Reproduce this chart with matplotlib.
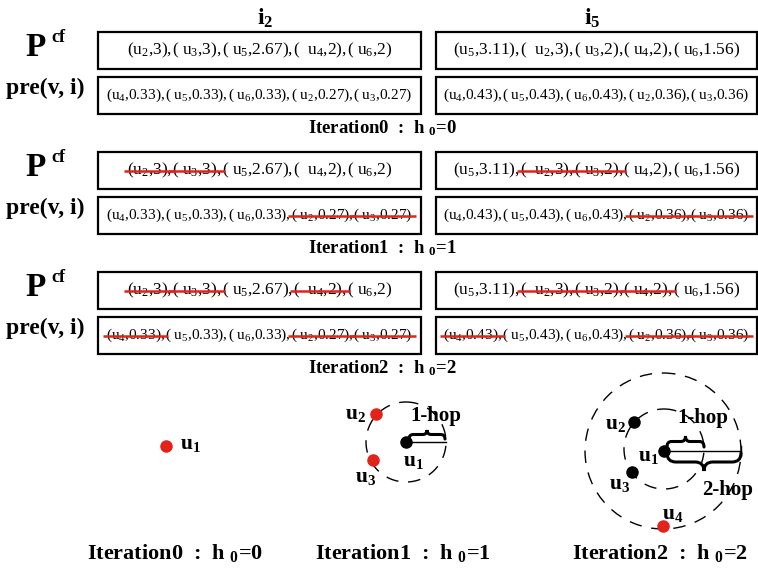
import numpy as np, matplotlib
matplotlib.use("Agg"); import matplotlib.pyplot as plt
from matplotlib.patches import Rectangle, Circle, PathPatch
from matplotlib.path import Path

plt.rcParams['font.family'] = 'Liberation Serif'
plt.rcParams['mathtext.fontset'] = 'custom'
plt.rcParams['mathtext.rm'] = 'Liberation Serif'
plt.rcParams['mathtext.it'] = 'Liberation Serif:italic'
plt.rcParams['mathtext.bf'] = 'Liberation Serif:bold'

# --- content ---
items = ['i$_\\mathbf{2}$', 'i$_\\mathbf{5}$']
pcf_i2 = ['(u$_2$,3),', '( u$_3$,3),', '( u$_5$,2.67),', '(  u$_4$,2),', '( u$_6$,2)']
pcf_i5 = ['(u$_5$,3.11),', '(  u$_2$,3),', '( u$_3$,2),', '( u$_4$,2),', '( u$_6$,1.56)']
pre_i2 = ['(u$_4$,0.33),', '( u$_5$,0.33),', '( u$_6$,0.33),', '( u$_2$,0.27),', '( u$_3$,0.27)']
pre_i5 = ['(u$_4$,0.43),', '( u$_5$,0.43),', '( u$_6$,0.43),', '( u$_2$,0.36),', '( u$_3$,0.36)']
iter_labels = ['Iteration0  :  h $_\\mathbf{0}$=0', 'Iteration1  :  h $_\\mathbf{0}$=1',
               'Iteration2  :  h $_\\mathbf{0}$=2']
# struck-out entries per iteration: (pcf_i2, pre_i2, pcf_i5, pre_i5)
struck = [([], [], [], []),
          ([0, 1], [3, 4], [1, 2], [3, 4]),
          ([0, 1, 3], [0, 3, 4], [1, 2, 3], [0, 3, 4])]

RED = '#e2231a'
fig = plt.figure(figsize=(7.58, 5.74), dpi=100)
ax = fig.add_axes([0, 0, 1, 1]); ax.set_xlim(0, 758); ax.set_ylim(574, 0); ax.axis('off')
rend = fig.canvas.get_renderer()

def row_text(pieces, cx, cy, size, strike):
    ts = [ax.text(0, cy, p, fontsize=size, ha='left', va='center') for p in pieces]
    ws = [t.get_window_extent(rend).width for t in ts]
    x = cx - sum(ws)/2
    for k, (t, w) in enumerate(zip(ts, ws)):
        t.set_x(x)
        if k in strike:
            ax.plot([x-3, x+w+3], [cy+1, cy+1], color=RED, lw=1.8, solid_capstyle='butt', zorder=5)
        x += w

def box(x0, x1, y0, y1):
    ax.add_patch(Rectangle((x0, y0), x1-x0, y1-y0, fill=False, ec='black', lw=1.6))

ax.text(265, 18, items[0], fontsize=17, fontweight='bold', ha='center', va='center')
ax.text(592, 18, items[1], fontsize=17, fontweight='bold', ha='center', va='center')

L0, L1, R0, R1 = 98, 421, 436, 757
for it in range(3):
    dy = 120*it
    ax.text(36, 47+dy, 'P', fontsize=24, fontweight='bold', ha='center', va='center')
    ax.text(51, 38+dy, 'cf', fontsize=13, fontweight='bold', ha='left', va='center')
    ax.text(45, 88+dy, 'pre(v, i)', fontsize=17, fontweight='bold', ha='center', va='center')
    box(L0, L1, 32+dy, 69+dy); box(R0, R1, 32+dy, 69+dy)
    box(L0, L1, 77+dy, 114+dy); box(R0, R1, 77+dy, 114+dy)
    s = struck[it]
    row_text(pcf_i2, (L0+L1)/2, 50+dy, 12.5, s[0])
    row_text(pre_i2, (L0+L1)/2, 95+dy, 11, s[1])
    row_text(pcf_i5, (R0+R1)/2, 50+dy, 12.5, s[2])
    row_text(pre_i5, (R0+R1)/2, 95+dy, 11, s[3])
    ax.text(382, 128+dy, iter_labels[it], fontsize=13.5, fontweight='bold', ha='center', va='center')

# --- hop diagrams ---
def brace(x0, x1, y, h):
    xm = (x0+x1)/2; q = min((x1-x0)*0.12, abs(h))
    verts = [(x0, y), (x0, y+h/2), (x0+q, y+h/2), (xm-q, y+h/2), (xm, y+h/2), (xm, y+h),
             (xm, y+h/2), (xm+q, y+h/2), (x1-q, y+h/2), (x1, y+h/2), (x1, y)]
    codes = [Path.MOVETO, Path.CURVE3, Path.CURVE3, Path.LINETO, Path.CURVE3, Path.CURVE3,
             Path.CURVE3, Path.CURVE3, Path.LINETO, Path.CURVE3, Path.CURVE3]
    ax.add_patch(PathPatch(Path(verts, codes), fill=False, ec='black', lw=2.2, capstyle='round'))

def dot(x, y, c):
    ax.plot(x, y, 'o', color=c, ms=8, mec=c)

def node_label(x, y, k):
    ax.text(x, y, 'u$_\\mathbf{%d}$' % k, fontsize=15.5, fontweight='bold', ha='center', va='center')

dash = (0, (9, 7))
# iteration 0
dot(166, 446, RED); node_label(190, 444, 1)
# iteration 1
ax.add_patch(Circle((406, 442), 40, fill=False, ec='black', lw=1, ls=dash))
ax.plot([406, 446], [442, 442], color='black', lw=1)
brace(409, 445, 439, -9)
dot(376, 414, RED); dot(373, 460, RED); dot(406, 442, 'black')
node_label(356, 414, 2); node_label(366, 477, 3); node_label(413, 461, 1)
ax.text(436, 416, '1-hop', fontsize=15, fontweight='bold', ha='center', va='center')
# iteration 2
ax.add_patch(Circle((664, 449), 40, fill=False, ec='black', lw=1, ls=dash))
ax.add_patch(Circle((663, 451), 78, fill=False, ec='black', lw=1, ls=dash))
ax.plot([664, 741], [451, 451], color='black', lw=1)
ax.plot([741, 741], [446, 456], color='black', lw=1)
brace(667, 704, 447, -11)
brace(667, 741, 453, 18)
dot(634, 422, 'black'); dot(632, 472, 'black'); dot(664, 451, 'black'); dot(663, 526, RED)
node_label(616, 424, 2); node_label(648, 456, 1); node_label(620, 484, 3); node_label(673, 514, 4)
ax.text(703, 418, '1-hop', fontsize=15, fontweight='bold', ha='center', va='center')
ax.text(728, 490, '2-hop', fontsize=15, fontweight='bold', ha='center', va='center')

ax.text(175, 553, iter_labels[0], fontsize=16, fontweight='bold', ha='center', va='center')
ax.text(403, 553, iter_labels[1], fontsize=16, fontweight='bold', ha='center', va='center')
ax.text(660, 553, iter_labels[2], fontsize=16, fontweight='bold', ha='center', va='center')

fig.savefig("out.png", dpi=100)
